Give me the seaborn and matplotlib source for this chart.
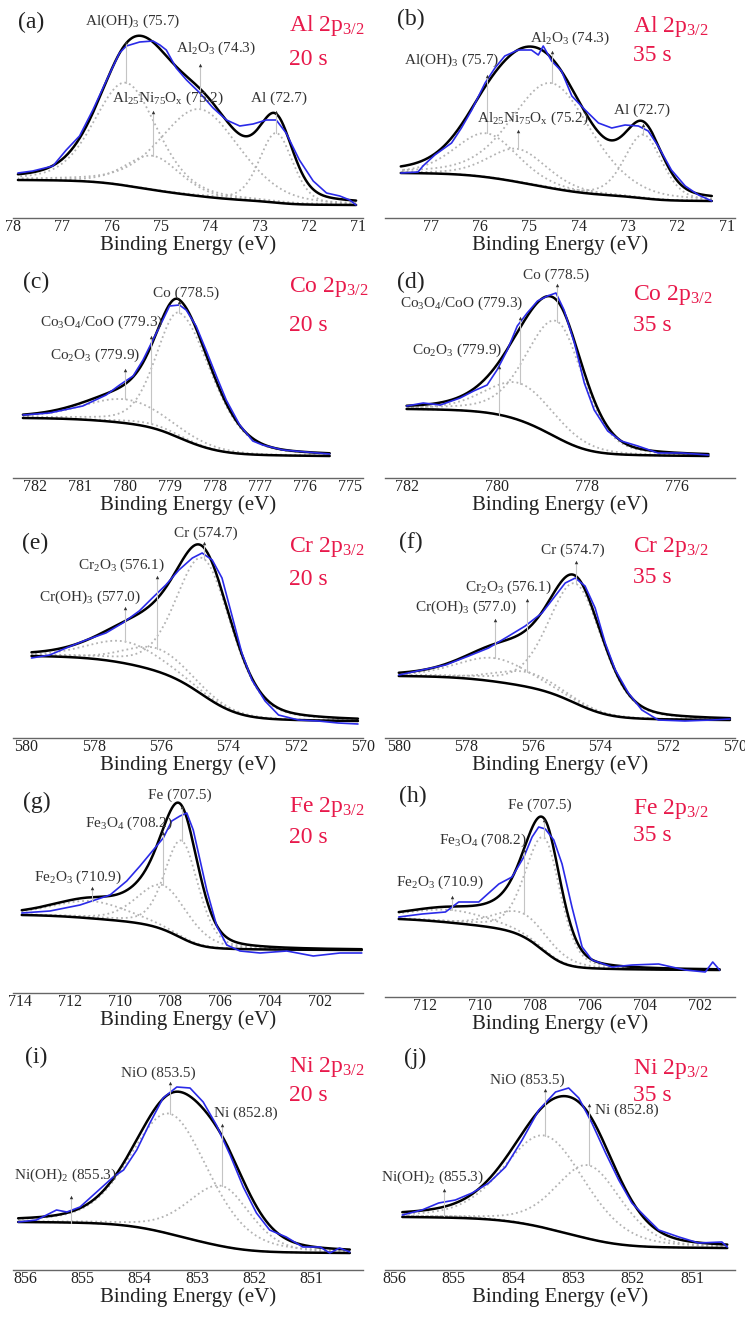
import numpy as np
import matplotlib
matplotlib.use("Agg")
import matplotlib.pyplot as plt
from matplotlib.ticker import MultipleLocator
import seaborn as sns

AL20_BE = [77.9, 77.6, 77.19, 76.92, 76.65, 76.38, 76.1, 75.84, 75.7, 75.43, 75.16, 75.02, 74.89, 74.69, 74.48,
           74.21, 73.94, 73.67, 73.4, 73.13, 72.86, 72.66, 72.46, 72.19, 71.91, 71.64, 71.37, 71.17, 71.04]
AL20_I = [45, 47, 52, 68, 82, 108, 138, 165, 172, 176, 177, 173, 168, 150, 138,
          125, 110, 98, 92, 94, 98, 98, 85, 58, 37, 25, 22, 18, 13]
AL35_BE = [77.61, 77.26, 77.16, 76.92, 76.58, 76.38, 76.17, 75.9, 75.7, 75.5, 75.23, 74.96, 74.82, 74.72,
           74.55, 74.35, 74.14, 73.87, 73.6, 73.33, 73.06, 72.79, 72.59, 72.39, 72.12, 71.84, 71.57, 71.3]
AL35_I = [45, 46, 52, 63, 75, 90, 108, 135, 150, 162, 168, 168, 163, 172,
          157, 147, 122, 108, 95, 90, 93, 92, 87, 72, 48, 32, 23, 17]
CO20_BE = [782.26, 781.67, 780.93, 780.41, 780.11, 779.81, 779.59, 779.37, 779.15, 779.0, 778.78,
           778.63, 778.41, 778.19, 777.96, 777.74, 777.44, 777.15, 776.93, 776.48, 775.96, 775.44]
CO20_I = [63, 65, 72, 83, 93, 102, 118, 138, 158, 172, 173,
          168, 152, 128, 102, 78, 53, 37, 33, 28, 26, 24]
CO35_BE = [782.0, 781.63, 781.25, 780.81, 780.51, 780.21, 779.99, 779.76, 779.54, 779.32, 779.09, 778.87,
           778.68, 778.5, 778.27, 778.05, 777.83, 777.53, 777.23, 776.86, 776.41, 775.89, 775.29]
CO35_I = [72, 75, 73, 80, 87, 93, 108, 128, 152, 165, 177, 182,
          185, 168, 135, 95, 68, 47, 37, 32, 25, 25, 23]
CR20_BE = [579.85, 579.31, 578.82, 578.23, 577.64, 577.14, 576.65, 576.26, 575.86, 575.47, 575.07, 574.78,
           574.48, 574.19, 573.89, 573.6, 573.3, 572.91, 572.51, 571.92, 571.33, 570.74, 570.15]
CR20_I = [80, 83, 90, 98, 105, 115, 127, 140, 153, 168, 180, 185,
          178, 160, 122, 85, 58, 37, 23, 18, 17, 15, 14]
CR35_BE = [580.0, 579.31, 578.61, 577.92, 577.33, 576.73, 576.24, 575.74, 575.35, 575.05, 574.75,
           574.46, 574.16, 573.86, 573.56, 573.17, 572.77, 572.28, 571.49, 570.69, 570.15]
CR35_I = [63, 68, 73, 82, 90, 102, 112, 125, 142, 155, 160,
          152, 130, 95, 68, 45, 28, 18, 17, 18, 19]
FE20_BE = [713.93, 712.8, 711.6, 710.4, 709.73, 709.2, 708.67, 708.27, 707.93, 707.6, 707.33,
           707.07, 706.8, 706.53, 706.13, 705.73, 705.2, 704.4, 703.33, 702.27, 701.2, 700.33]
FE20_I = [80, 82, 88, 98, 112, 127, 143, 155, 172, 177, 180,
          163, 133, 103, 67, 48, 42, 40, 42, 37, 40, 40]
FE35_BE = [712.97, 712.12, 711.27, 710.79, 710.06, 709.33, 708.85, 708.42, 708.12, 707.88, 707.64, 707.33,
           707.03, 706.67, 706.3, 705.94, 705.21, 704.48, 703.52, 702.55, 701.82, 701.55, 701.3]
FE35_I = [80, 83, 85, 95, 95, 113, 120, 140, 160, 170, 168, 157,
          133, 90, 50, 37, 30, 32, 33, 27, 25, 35, 27]
NI20_BE = [856.12, 855.8, 855.45, 855.27, 855.04, 854.75, 854.46, 854.28, 854.05, 853.82, 853.59, 853.35, 853.12,
           852.89, 852.66, 852.42, 852.19, 851.96, 851.73, 851.44, 851.15, 850.85, 850.68, 850.51, 850.33]
NI20_I = [48, 50, 60, 58, 63, 78, 93, 100, 120, 147, 172, 183, 182,
          168, 145, 115, 83, 57, 40, 33, 23, 23, 17, 22, 18]
NI35_BE = [855.86, 855.53, 855.25, 854.97, 854.69, 854.41, 854.13, 853.85, 853.57, 853.29, 853.07,
           852.9, 852.68, 852.45, 852.23, 852.01, 851.78, 851.56, 851.22, 850.89, 850.5, 850.41]
NI35_I = [55, 60, 67, 70, 77, 87, 103, 130, 160, 178, 182,
          172, 147, 117, 90, 67, 53, 40, 33, 27, 28, 23]

# ---------------- fitted components: names, centres, FWHM (low-BE / high-BE side) ----------------
AL_NAMES = ["Al(OH)$_3$ (75.7)", "Al$_{25}$Ni$_{75}$O$_\\mathrm{x}$ (75.2)", "Al$_2$O$_3$ (74.3)", "Al (72.7)"]
CO_NAMES = ["Co (778.5)", "Co$_3$O$_4$/CoO (779.3)", "Co$_2$O$_3$ (779.9)"]
CR_NAMES = ["Cr (574.7)", "Cr$_2$O$_3$ (576.1)", "Cr(OH)$_3$ (577.0)"]
FE_NAMES = ["Fe (707.5)", "Fe$_3$O$_4$ (708.2)", "Fe$_2$O$_3$ (710.9)"]
NI_NAMES = ["NiO (853.5)", "Ni (852.8)", "Ni(OH)$_2$ (855.3)"]

AL20_CENTER = [75.71, 75.16, 74.21, 72.66]
AL20_W_LO = [1.5, 1.3, 1.9, 0.8]
AL20_W_HI = [1.5, 1.3, 1.9, 0.8]
AL35_CENTER = [75.87, 75.23, 74.55, 72.69]
AL35_W_LO = [1.5, 1.4, 1.9, 0.9]
AL35_W_HI = [1.5, 1.4, 1.9, 0.9]
CO20_CENTER = [778.78, 779.41, 779.98]
CO20_W_LO = [1.7, 1.6, 2.2]
CO20_W_HI = [1.2, 1.6, 2.2]
CO35_CENTER = [778.65, 779.47, 779.95]
CO35_W_LO = [1.4, 1.8, 2.4]
CO35_W_HI = [1.6, 1.8, 2.4]
CR20_CENTER = [574.73, 576.11, 577.06]
CR20_W_LO = [2.0, 2.2, 2.6]
CR20_W_HI = [1.9, 2.2, 2.6]
CR35_CENTER = [574.73, 576.19, 577.15]
CR35_W_LO = [1.9, 2.2, 2.6]
CR35_W_HI = [1.9, 2.2, 2.6]
FE20_CENTER = [707.53, 708.27, 711.13]
FE20_W_LO = [1.6, 2.4, 3.6]
FE20_W_HI = [1.6, 2.4, 3.6]
FE35_CENTER = [707.67, 708.42, 711.03]
FE35_W_LO = [1.4, 2.4, 3.6]
FE35_W_HI = [1.6, 2.4, 3.6]
NI20_CENTER = [853.47, 852.57, 855.19]
NI20_W_LO = [1.6, 1.2, 2.0]
NI20_W_HI = [1.6, 1.4, 2.0]
NI35_CENTER = [853.46, 852.73, 855.16]
NI35_W_LO = [1.6, 1.3, 2.0]
NI35_W_HI = [1.6, 1.3, 2.0]

# Shirley background end levels (high-BE side, low-BE side)
AL20_BG = [38, 13]
AL35_BG = [45, 17]
CO20_BG = [60, 22]
CO35_BG = [69, 22]
CR20_BG = [82, 17]
CR35_BG = [62, 18]
FE20_BG = [78, 43]
FE35_BG = [78, 27]
NI20_BG = [48, 17]
NI35_BG = [53, 22]

ETA = 0.3  # Lorentzian fraction


def pvoigt(x, c, w_lo, w_hi):
    w = np.where(x >= c, w_hi, w_lo)
    u = (x - c) / w
    return (1 - ETA) * np.exp(-4 * np.log(2) * u ** 2) + ETA / (1 + 4 * u ** 2)


def nnls(A, b):
    active = list(range(A.shape[1]))
    amp = np.zeros(A.shape[1])
    while active:
        sol = np.linalg.lstsq(A[:, active], b, rcond=None)[0]
        if (sol >= 0).all():
            amp[active] = sol
            break
        active.pop(int(np.argmin(sol)))
    return amp


def fit(be, inten, centers, w_lo, w_hi, bg_ends):
    be = np.asarray(be, float)
    y = np.asarray(inten, float)
    grid = np.linspace(be.min(), be.max(), 800)
    hi, lo = bg_ends
    bg = lo + (hi - lo) * (grid - grid[0]) / (grid[-1] - grid[0])
    bd = np.array([pvoigt(be, c, a, b) for c, a, b in zip(centers, w_lo, w_hi)]).T
    bgr = np.array([pvoigt(grid, c, a, b) for c, a, b in zip(centers, w_lo, w_hi)]).T
    for _ in range(40):
        amp = nnls(bd, y - np.interp(be, grid, bg))
        peaks = bgr @ amp
        cum = np.concatenate([[0], np.cumsum(0.5 * (peaks[1:] + peaks[:-1]) * np.diff(grid))])
        bg = lo + (hi - lo) * cum / cum[-1]
    return grid, bg, bgr * amp


# ---------------- layout (pixels) ----------------
FW, FH = 745, 1317
AX_W, AX_H = 350, 212
RED = "#e8194b"
GRAY = "#b3b3b3"

PANELS = [
    dict(tag="(a)", x0=13, ay=218, xlim=(78.0, 70.9), step=1, be=AL20_BE, y=AL20_I, names=AL_NAMES,
         c=AL20_CENTER, wl=AL20_W_LO, wh=AL20_W_HI, bgend=AL20_BG, el="Al", t="20 s",
         tagpos=(31, 22), tpos=(289, 31, 65),
         lab=[(75.57, 197), (74.86, 120), (73.88, 170), (72.6, 120)], tip=[176, 106, 153, 106]),
    dict(tag="(b)", x0=385, ay=218, xlim=(77.93, 70.83), step=1, be=AL35_BE, y=AL35_I, names=AL_NAMES,
         c=AL35_CENTER, wl=AL35_W_LO, wh=AL35_W_HI, bgend=AL35_BG, el="Al", t="35 s",
         tagpos=(411, 19), tpos=(633, 32, 61),
         lab=[(76.57, 158), (74.93, 100), (74.18, 180), (72.72, 108)], tip=[142, 87, 166, 93]),
    dict(tag="(c)", x0=13, ay=478, xlim=(782.48, 774.7), step=1, be=CO20_BE, y=CO20_I, names=CO_NAMES,
         c=CO20_CENTER, wl=CO20_W_LO, wh=CO20_W_HI, bgend=CO20_BG, el="Co", t="20 s",
         tagpos=(36, 282), tpos=(289, 292, 331),
         lab=[(778.64, 185), (780.5, 156), (780.66, 123)], tip=[176, 141, 108]),
    dict(tag="(d)", x0=385, ay=478, xlim=(782.48, 774.7), step=2, be=CO35_BE, y=CO35_I, names=CO_NAMES,
         c=CO35_CENTER, wl=CO35_W_LO, wh=CO35_W_HI, bgend=CO35_BG, el="Co", t="35 s",
         tagpos=(411, 282), tpos=(633, 300, 331),
         lab=[(778.68, 203), (780.77, 175), (780.88, 128)], tip=[193, 160, 111]),
    dict(tag="(e)", x0=13, ay=738, xlim=(580.4, 570.0), step=2, be=CR20_BE, y=CR20_I, names=CR_NAMES,
         c=CR20_CENTER, wl=CR20_W_LO, wh=CR20_W_HI, bgend=CR20_BG, el="Cr", t="20 s",
         tagpos=(35, 543), tpos=(289, 552, 585),
         lab=[(574.66, 205), (577.19, 173), (578.11, 141)], tip=[195, 161, 130]),
    dict(tag="(f)", x0=385, ay=738, xlim=(580.41, 570.0), step=2, be=CR35_BE, y=CR35_I, names=CR_NAMES,
         c=CR35_CENTER, wl=CR35_W_LO, wh=CR35_W_HI, bgend=CR35_BG, el="Cr", t="35 s",
         tagpos=(411, 542), tpos=(633, 552, 583),
         lab=[(574.82, 188), (576.75, 151), (578.0, 131)], tip=[176, 138, 118]),
    dict(tag="(g)", x0=13, ay=993, xlim=(714.28, 700.28), step=2, be=FE20_BE, y=FE20_I, names=FE_NAMES,
         c=FE20_CENTER, wl=FE20_W_LO, wh=FE20_W_HI, bgend=FE20_BG, el="Fe", t="20 s",
         tagpos=(37, 802), tpos=(289, 812, 843),
         lab=[(707.6, 198), (709.64, 170), (711.68, 116)], tip=[186, 160, 105]),
    dict(tag="(h)", x0=385, ay=997, xlim=(713.47, 700.74), step=2, be=FE35_BE, y=FE35_I, names=FE_NAMES,
         c=FE35_CENTER, wl=FE35_W_LO, wh=FE35_W_HI, bgend=FE35_BG, el="Fe", t="35 s",
         tagpos=(413, 796), tpos=(633, 814, 841),
         lab=[(707.83, 192), (709.9, 157), (711.47, 115)], tip=[177, 147, 100]),
    dict(tag="(i)", x0=13, ay=1270, xlim=(856.21, 850.1), step=1, be=NI20_BE, y=NI20_I, names=NI_NAMES,
         c=NI20_CENTER, wl=NI20_W_LO, wh=NI20_W_HI, bgend=NI20_BG, el="Ni", t="20 s",
         tagpos=(36, 1057), tpos=(289, 1072, 1101),
         lab=[(853.68, 197), (852.14, 157), (855.30, 95)], tip=[187, 145, 73]),
    dict(tag="(j)", x0=385, ay=1270, xlim=(856.15, 850.28), step=1, be=NI35_BE, y=NI35_I, names=NI_NAMES,
         c=NI35_CENTER, wl=NI35_W_LO, wh=NI35_W_HI, bgend=NI35_BG, el="Ni", t="35 s",
         tagpos=(415, 1058), tpos=(633, 1074, 1101),
         lab=[(853.77, 190), (852.09, 160), (855.36, 93)], tip=[180, 165, 80]),
]

sns.set_theme(style="white")
plt.rcParams["font.family"] = ["Liberation Serif", "DejaVu Serif"]
plt.rcParams["mathtext.fontset"] = "custom"
plt.rcParams["mathtext.rm"] = "Liberation Serif"
plt.rcParams["mathtext.it"] = "Liberation Serif:italic"
plt.rcParams["mathtext.bf"] = "Liberation Serif:bold"

fig = plt.figure(figsize=(FW / 100, FH / 100), dpi=100)

for p in PANELS:
    ax = fig.add_axes([p["x0"] / FW, 1 - p["ay"] / FH, AX_W / FW, AX_H / FH])
    ax.set_facecolor("none")
    grid, bg, comps = fit(p["be"], p["y"], p["c"], p["wl"], p["wh"], p["bgend"])

    for k in range(comps.shape[1]):
        sns.lineplot(x=grid, y=comps[:, k] + bg, ax=ax, color=GRAY, lw=1.3, linestyle=":",
                     sort=False, estimator=None)
    sns.lineplot(x=grid, y=bg, ax=ax, color="black", lw=1.8, sort=False, estimator=None)
    sns.lineplot(x=grid, y=comps.sum(axis=1) + bg, ax=ax, color="black", lw=1.8, sort=False, estimator=None)
    sns.lineplot(x=p["be"], y=p["y"], ax=ax, color="#2a2ae8", lw=1.2, sort=False, estimator=None)

    # component labels with marker lines
    for k, name in enumerate(p["names"]):
        c = p["c"][k]
        top = np.interp(c, grid, comps[:, k] + bg)
        tip = p["tip"][k]
        if top < tip:
            ax.plot([c, c], [top, tip - 2], color="#c4c4c4", lw=0.8)
        ax.plot([c], [tip], marker="^", ms=2.5, color="#333333", mec="none")
        tx, ty = p["lab"][k]
        ax.text(tx, ty, name, fontsize=11, color="#333333", ha="center", va="center")

    ax.set_xlim(*p["xlim"])
    ax.set_ylim(0, AX_H)
    ax.set_yticks([])
    ax.xaxis.set_major_locator(MultipleLocator(p["step"]))
    ax.xaxis.set_minor_locator(MultipleLocator(p["step"] / 2))
    ax.xaxis.set_major_formatter("{x:.0f}")
    ax.tick_params(axis="x", which="major", direction="in", length=4, width=0.8, color="#666666",
                   labelsize=11.5, pad=1, labelcolor="#222222")
    ax.tick_params(axis="x", which="minor", direction="in", length=2.5, width=0.7, color="#666666")
    for s in ["left", "right", "top"]:
        ax.spines[s].set_visible(False)
    ax.spines["bottom"].set_color("#666666")
    ax.spines["bottom"].set_linewidth(1.0)
    ax.set_xlabel("Binding Energy (eV)", fontsize=15, labelpad=0, color="#222222")
    ax.set_ylabel("")

    fig.text(p["tagpos"][0] / FW, 1 - p["tagpos"][1] / FH, p["tag"], fontsize=17, color="#222222",
             ha="center", va="center")
    tx, y1, y2 = p["tpos"]
    fig.text(tx / FW, 1 - y1 / FH, p["el"] + " 2p$_{3/2}$", fontsize=17, color=RED, ha="left", va="baseline")
    fig.text(tx / FW, 1 - y2 / FH, p["t"], fontsize=17, color=RED, ha="left", va="baseline")

fig.savefig("out.png", dpi=100)
